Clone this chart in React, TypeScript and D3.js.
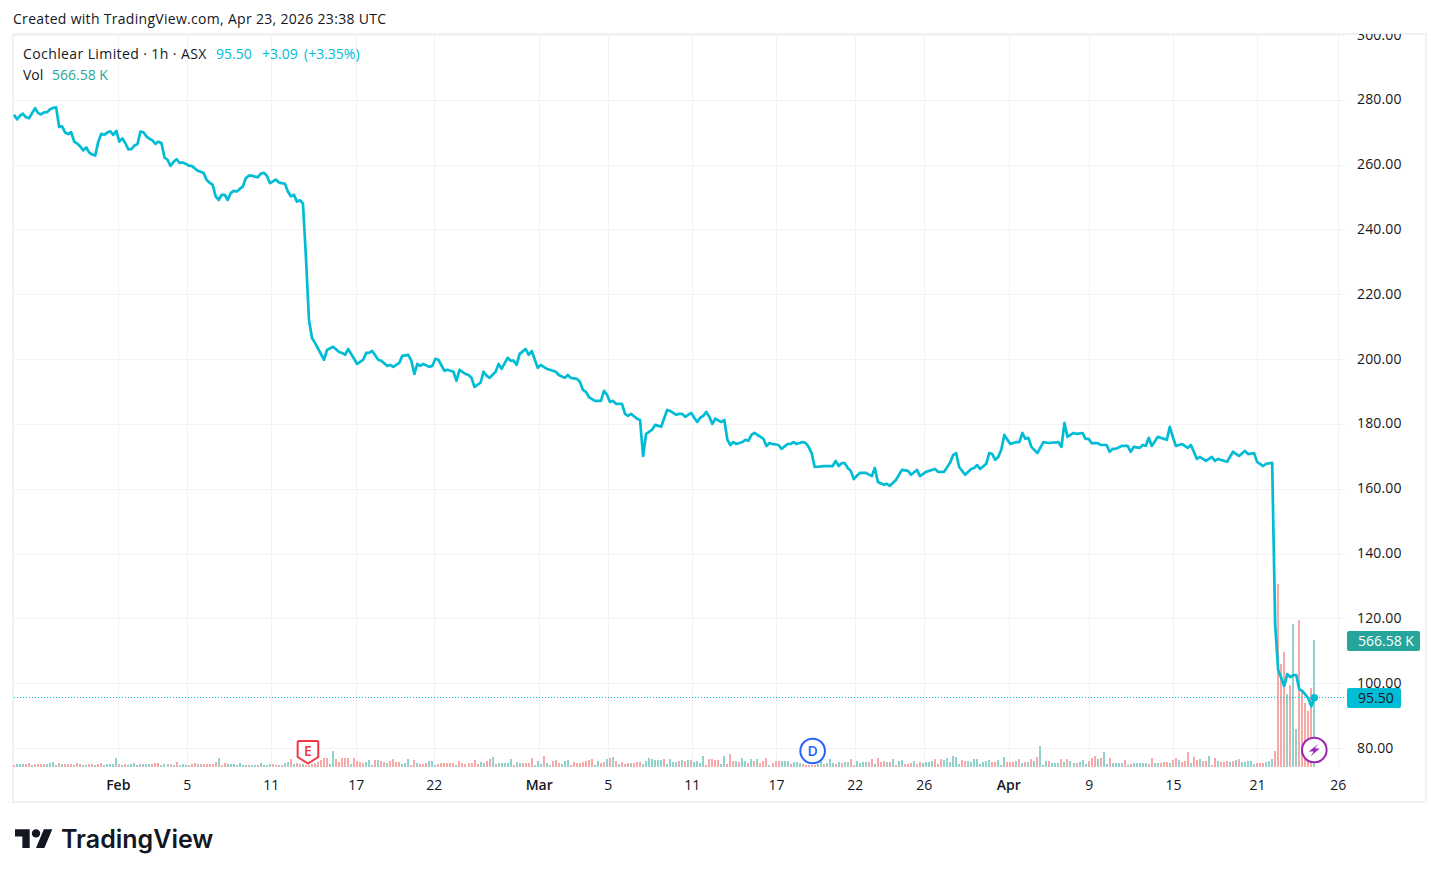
import { useEffect, useRef } from 'react';
import * as d3 from 'd3';

// hourly closes, [bar number, price]
const closeRows: [number, number][] = [
  [0, 275.4], [1, 274.0], [2, 275.1], [3, 275.7], [4, 274.6], [5, 274.3], [6, 275.9], [7, 277.4], [8, 275.9], [9, 275.5],
  [10, 276.1], [11, 276.2], [12, 277.1], [13, 277.5], [14, 277.7], [15, 271.6], [16, 271.8], [17, 269.9], [18, 269.4], [19, 270.0],
  [20, 267.1], [21, 266.5], [22, 265.6], [23, 264.4], [24, 265.3], [25, 263.7], [26, 263.1], [27, 262.8], [28, 267.1], [29, 269.5],
  [30, 269.2], [31, 269.9], [32, 270.3], [33, 269.2], [34, 270.4], [35, 267.1], [36, 268.1], [37, 266.6], [38, 264.7], [39, 264.8],
  [40, 265.9], [41, 266.3], [42, 270.2], [43, 270.0], [44, 268.7], [45, 268.0], [46, 267.5], [47, 266.4], [48, 267.1], [49, 266.6],
  [50, 262.2], [51, 261.5], [52, 259.6], [53, 260.8], [54, 261.7], [55, 260.5], [56, 260.7], [57, 260.3], [58, 259.7], [59, 259.6],
  [60, 258.9], [61, 258.1], [62, 257.8], [63, 257.4], [64, 255.3], [65, 254.4], [66, 253.8], [67, 250.2], [68, 249.1], [69, 250.7],
  [70, 250.7], [71, 249.1], [72, 251.2], [73, 251.9], [74, 251.7], [75, 252.5], [76, 253.2], [77, 255.8], [78, 256.6], [79, 256.6],
  [80, 256.3], [81, 256.1], [82, 257.2], [83, 257.5], [84, 256.6], [85, 254.3], [86, 254.8], [87, 255.4], [88, 254.5], [89, 254.3],
  [90, 254.1], [91, 251.7], [92, 250.2], [93, 250.7], [94, 248.6], [95, 249.0], [96, 248.0], [97, 231.3], [98, 212.1], [99, 206.5],
  [100, 205.0], [103, 199.8], [104, 202.8], [106, 203.8], [108, 202.2], [109, 201.9], [110, 201.3], [111, 203.1], [113, 200.1], [114, 198.5],
  [116, 199.8], [117, 201.9], [118, 201.9], [119, 202.5], [121, 199.8], [122, 199.5], [124, 197.9], [125, 198.2], [126, 197.6], [128, 198.8],
  [129, 201.0], [131, 201.3], [132, 199.5], [133, 195.4], [134, 198.5], [135, 197.9], [136, 198.5], [138, 197.6], [139, 197.9], [140, 200.1],
  [141, 199.8], [143, 196.4], [144, 196.7], [146, 196.1], [147, 193.3], [148, 196.7], [150, 195.4], [151, 195.1], [152, 194.2], [153, 191.4],
  [155, 192.7], [156, 196.1], [157, 194.9], [158, 194.2], [160, 196.1], [161, 198.5], [162, 197.0], [164, 200.4], [165, 199.5], [166, 199.5],
  [167, 198.2], [168, 201.6], [170, 203.1], [171, 201.3], [172, 202.5], [174, 197.3], [175, 198.2], [177, 197.0], [178, 196.7], [180, 196.1],
  [181, 195.1], [183, 194.2], [184, 195.1], [185, 194.2], [187, 193.9], [188, 193.0], [189, 190.5], [190, 189.9], [191, 188.3], [193, 187.1],
  [195, 187.1], [196, 190.2], [197, 189.0], [198, 186.8], [199, 187.1], [200, 186.2], [202, 186.2], [203, 183.1], [204, 182.5], [205, 183.1],
  [207, 181.6], [208, 181.2], [209, 170.1], [210, 176.9], [212, 178.2], [213, 179.7], [215, 179.1], [217, 184.3], [218, 184.0], [220, 182.8],
  [221, 183.1], [222, 183.1], [223, 182.2], [225, 183.4], [226, 181.9], [227, 180.6], [228, 181.9], [229, 182.5], [230, 183.7], [231, 182.2],
  [232, 180.0], [233, 181.6], [235, 180.6], [236, 181.2], [237, 175.1], [238, 173.5], [239, 174.4], [240, 173.8], [242, 174.4], [243, 175.1],
  [244, 174.8], [245, 176.6], [246, 177.2], [249, 175.4], [250, 173.2], [251, 174.1], [252, 173.8], [254, 173.5], [255, 172.3], [257, 173.8],
  [258, 173.8], [259, 174.4], [260, 173.8], [262, 174.4], [263, 174.1], [264, 172.9], [265, 171.0], [266, 166.7], [269, 167.0], [272, 167.0],
  [273, 168.6], [274, 167.0], [275, 167.9], [276, 167.9], [277, 166.4], [278, 165.5], [279, 163.0], [281, 164.9], [283, 164.9], [285, 163.9],
  [286, 166.4], [287, 162.1], [289, 161.2], [290, 161.5], [291, 160.9], [293, 162.7], [295, 165.8], [297, 165.5], [298, 164.3], [300, 165.8],
  [301, 163.9], [303, 165.2], [306, 166.1], [307, 165.2], [309, 165.2], [311, 168.0], [312, 170.4], [313, 171.0], [314, 166.7], [316, 164.3],
  [318, 166.1], [319, 166.4], [320, 167.3], [321, 166.1], [323, 167.7], [324, 171.0], [325, 170.7], [326, 168.9], [327, 169.8], [328, 172.0],
  [329, 176.6], [331, 173.8], [333, 174.4], [334, 174.4], [335, 177.2], [336, 175.4], [337, 175.7], [338, 172.9], [340, 171.0], [342, 174.4],
  [344, 174.1], [347, 174.4], [348, 172.9], [349, 180.3], [350, 176.0], [352, 177.2], [353, 176.9], [355, 177.2], [356, 175.4], [357, 175.4],
  [358, 174.1], [360, 174.1], [361, 173.5], [363, 173.5], [364, 171.4], [365, 172.3], [366, 172.3], [368, 173.2], [370, 173.2], [371, 171.4],
  [372, 172.9], [374, 172.6], [375, 173.5], [376, 173.2], [377, 175.7], [378, 173.2], [380, 176.0], [383, 175.1], [384, 179.1], [385, 176.0],
  [386, 173.2], [388, 173.8], [390, 172.6], [391, 173.5], [393, 169.2], [394, 169.8], [396, 168.6], [398, 169.8], [399, 168.6], [400, 169.2],
  [403, 168.3], [405, 171.4], [407, 170.1], [409, 171.7], [410, 170.7], [412, 171.0], [413, 168.3], [415, 167.0], [416, 167.7], [418, 168.0],
  [419, 118.0], [420, 104.1], [421, 101.6], [422, 99.1], [423, 102.8], [424, 101.9], [425, 102.5], [426, 102.5], [427, 98.2], [428, 97.6],
  [430, 95.4], [431, 92.9], [432, 95.5],
];

// volume per bar in thousands, negative = down bar
const volumes: number[] = [
  -9, 13, 13, 13, -13, -18, 9, -13, -13, -13, -13, 13, 18, 22, 9, -18, 13, -13, -13, -13,
  9, -18, -13, 9, 9, -13, -13, 9, -13, -18, 9, 13, 13, 13, 40, -13, 9, -13, 9, 13,
  18, 9, -13, 13, 13, 13, -13, -18, -18, 9, 13, 13, -13, 9, -22, 9, 13, 9, -9, -13,
  -18, 13, -13, -13, -13, -13, -13, -22, 40, -9, -18, 13, 13, 13, 9, 18, 9, 9, -9, 9,
  9, -9, 18, 9, 9, 13, -13, -9, 9, -9, 18, 22, -36, 13, -18, -13, 13, -9, -9, -13,
  -18, -22, -31, -40, -40, 13, 71, -36, -22, -40, -40, -40, 13, -40, -27, -22, -18, 22, 31, 9,
  -31, 31, -27, -22, 18, -27, -36, -22, -22, 13, 18, 36, -9, -31, 18, -13, -13, -18, 27, 27,
  9, -13, -18, -18, -18, -18, -18, 9, -27, -18, -13, -18, -18, -31, -13, 22, 18, -27, -36, 45,
  -13, 18, 18, 18, 18, 36, -9, 22, 18, -18, -18, -18, -40, 9, 27, 13, -49, 18, 9, -27,
  -31, -18, 13, 27, 31, -9, -22, -18, -18, -22, -27, -31, -36, 9, 27, -18, -22, 36, -40, 45,
  -27, 13, -22, -13, -18, 18, -18, -22, -22, 13, 27, 40, 36, 31, 31, 31, -36, 13, 36, 22,
  22, -27, 31, -27, 31, -31, 22, 27, 18, 49, -9, -36, -36, -31, -31, 13, 49, -13, -58, -27,
  27, -22, 40, 27, -18, 36, -27, 36, -18, -27, -40, 9, -18, -27, -27, 27, 27, 27, -13, 22,
  22, 18, -13, -9, -9, -9, -9, 13, 27, -13, 18, 36, 18, -13, 22, -18, 22, 22, -36, -9,
  27, 18, 22, 22, -22, -36, 13, -40, -22, -27, 22, -22, 36, -9, 27, 31, -13, -13, -18, 27,
  -13, -22, 18, 22, 22, 27, -36, -13, -36, 31, 40, 22, 49, 45, 13, -31, -27, 27, 22, 36,
  36, 13, 22, 27, 31, -22, -22, 31, 9, 45, -22, -22, -22, 27, -36, 18, -22, 22, -36, 27,
  -45, 94, 9, 27, -27, 18, 18, 18, -36, 22, -36, 27, 18, -18, 22, 31, 13, -27, -40, -49,
  36, -40, 67, 13, -40, 18, 18, 18, 18, -31, 9, -13, 18, 18, 18, 18, 18, -13, -40, 18,
  18, -18, -22, -22, 18, -31, -40, 31, -22, -27, -67, 18, -45, -31, 36, -27, -27, 49, -9, -40,
  27, -22, -22, -27, 22, -25, 30, -34, 22, 22, 25, 25, 15, -19, -18, -19, 22, 27, 34, -70,
  -815, -460, -513, 327, -364, 636, 171, -654, -334, -287, -252, -352, 566.58,
];

const priceTicks = [80, 100, 120, 140, 160, 180, 200, 220, 240, 260, 280, 300];

// time axis labels and where they sit, in bars (they land between bars at this zoom)
const timeLabels = ['Feb', '5', '11', '17', '22', 'Mar', '5', '11', '17', '22', '26', 'Apr', '9', '15', '21', '26'];
const timeBars = [34.65, 57.57, 85.5, 113.7, 139.6, 174.5, 197.4, 225.3, 253.3, 279.5, 302.4, 330.5, 357.2, 385.2, 413.1, 440];
const monthLabels = ['Feb', 'Mar', 'Apr'];

const lastPrice = 95.5;
const lastVolume = 566.58;
const earningsBar = 98;
const dividendBar = 266;

const FONT = '"Open Sans", sans-serif';
const CYAN = '#00bcd4';
const TEAL = '#26a69a';
const GRID = '#f2f3f5';
const INK = '#131722';

export default function App() {
  const ref = useRef<SVGSVGElement | null>(null);

  useEffect(() => {
    if (!ref.current) return;
    const svg = d3.select(ref.current);
    svg.selectAll('*').remove();

    const paneLeft = 14;
    const paneRight = 1346;
    const paneTop = 35;
    const paneBottom = 767;

    const x = d3.scaleLinear().domain([0, 432]).range([14, 1314.3]);
    const y = d3.scaleLinear().domain([80, 300]).range([748, 35]);
    const yVol = d3.scaleLinear().domain([0, lastVolume]).range([paneBottom, 640]);

    svg.append('rect').attr('width', 1439).attr('height', 877).attr('fill', '#fff');

    const defs = svg.append('defs');
    defs.append('clipPath').attr('id', 'pane')
      .append('rect').attr('x', 13).attr('y', 34).attr('width', 1413).attr('height', 768);

    svg.append('text')
      .attr('x', 13).attr('y', 24)
      .attr('font-size', 14).attr('fill', INK)
      .attr('letter-spacing', 0.3)
      .text('Created with TradingView.com, Apr 23, 2026 23:38 UTC');

    // frame
    svg.append('rect')
      .attr('x', 13).attr('y', 34).attr('width', 1413).attr('height', 768)
      .attr('fill', 'none').attr('stroke', '#f0f1f3').attr('stroke-width', 2);

    // grid
    svg.append('g').selectAll('line').data(priceTicks).join('line')
      .attr('x1', paneLeft).attr('x2', paneRight)
      .attr('y1', (d) => Math.round(y(d)) + 0.5).attr('y2', (d) => Math.round(y(d)) + 0.5)
      .attr('stroke', GRID);
    svg.append('g').selectAll('line').data(timeBars).join('line')
      .attr('x1', (d) => Math.round(x(d)) + 0.5).attr('x2', (d) => Math.round(x(d)) + 0.5)
      .attr('y1', paneTop).attr('y2', paneBottom)
      .attr('stroke', GRID);

    // volume
    svg.append('g').attr('shape-rendering', 'crispEdges')
      .selectAll('rect').data(volumes).join('rect')
      .attr('x', (_, i) => Math.round(x(i)) - 1)
      .attr('width', 2)
      .attr('y', (d) => yVol(Math.abs(d)))
      .attr('height', (d) => paneBottom - yVol(Math.abs(d)))
      .attr('fill', (d) => (d >= 0 ? '#92d2cc' : '#f7a9a7'));

    // last price dotted line
    svg.append('line')
      .attr('x1', paneLeft).attr('x2', paneRight)
      .attr('y1', 697.5).attr('y2', 697.5)
      .attr('stroke', CYAN).attr('stroke-dasharray', '1 2');

    const line = d3.line<[number, number]>()
      .x((d) => x(d[0]))
      .y((d) => y(d[1]));

    svg.append('path')
      .attr('d', line(closeRows) as string)
      .attr('fill', 'none')
      .attr('stroke', CYAN)
      .attr('stroke-width', 2.7)
      .attr('stroke-linejoin', 'round');

    svg.append('circle')
      .attr('cx', x(432)).attr('cy', y(lastPrice)).attr('r', 3.7)
      .attr('fill', CYAN);

    // event markers
    const ex = x(earningsBar) - 1;
    svg.append('path')
      .attr('d', `M${ex - 9.3},741 h18.6 a1,1 0 0 1 1,1 v15 l-10.3,6.5 l-10.3,-6.5 v-15 a1,1 0 0 1 1,-1 Z`)
      .attr('fill', '#fff').attr('stroke', '#f23645').attr('stroke-width', 2);
    svg.append('text')
      .attr('x', ex).attr('y', 756).attr('text-anchor', 'middle')
      .attr('font-size', 14).attr('font-weight', 600).attr('fill', '#f23645')
      .text('E');

    const dx = x(dividendBar) - 2;
    svg.append('circle')
      .attr('cx', dx).attr('cy', 751).attr('r', 12.3)
      .attr('fill', '#fff').attr('stroke', '#2962ff').attr('stroke-width', 2);
    svg.append('text')
      .attr('x', dx).attr('y', 756).attr('text-anchor', 'middle')
      .attr('font-size', 14).attr('font-weight', 600).attr('fill', '#2962ff')
      .text('D');

    const bx = x(432);
    svg.append('circle')
      .attr('cx', bx).attr('cy', 750).attr('r', 12.3)
      .attr('fill', '#fff').attr('stroke', '#9c27b0').attr('stroke-width', 2);
    svg.append('path')
      .attr('d', `M${bx + 4},744 L${bx - 5.5},751.5 H${bx - 0.5} L${bx - 4},756.5 L${bx + 5.5},748.5 H${bx + 0.5} Z`)
      .attr('fill', '#9c27b0');

    // price axis
    svg.append('g').attr('clip-path', 'url(#pane)')
      .selectAll('text').data(priceTicks).join('text')
      .attr('x', 1357)
      .attr('y', (d) => y(d) + 4.5)
      .attr('font-size', 14).attr('fill', INK)
      .attr('letter-spacing', 0.15)
      .text((d) => d.toFixed(2));

    // time axis
    svg.append('g').selectAll('text').data(timeLabels).join('text')
      .attr('x', (_, i) => x(timeBars[i]))
      .attr('y', 790)
      .attr('text-anchor', 'middle')
      .attr('font-size', 14).attr('fill', INK)
      .attr('font-weight', (d) => (monthLabels.includes(d) ? 600 : 400))
      .text((d) => d);

    // last value tags
    svg.append('rect').attr('x', 1347).attr('y', 631).attr('width', 73).attr('height', 20).attr('rx', 2).attr('fill', TEAL);
    svg.append('text').attr('x', 1358).attr('y', 646).attr('font-size', 14).attr('fill', '#fff').text('566.58 K');
    svg.append('rect').attr('x', 1347).attr('y', 688).attr('width', 54).attr('height', 20).attr('rx', 2).attr('fill', CYAN);
    svg.append('text').attr('x', 1358).attr('y', 703).attr('font-size', 14).attr('fill', INK).text('95.50');

    // legend
    const legend = svg.append('g').attr('font-size', 14);
    legend.append('text').attr('x', 23).attr('y', 59).attr('fill', INK).attr('letter-spacing', 0.4).text('Cochlear Limited · 1h · ASX');
    legend.append('text').attr('x', 216).attr('y', 59).attr('fill', CYAN).text('95.50');
    legend.append('text').attr('x', 262).attr('y', 59).attr('fill', CYAN).text('+3.09');
    legend.append('text').attr('x', 304).attr('y', 59).attr('fill', CYAN).text('(+3.35%)');
    legend.append('text').attr('x', 23).attr('y', 80).attr('fill', INK).text('Vol');
    legend.append('text').attr('x', 52).attr('y', 80).attr('fill', TEAL).text('566.58 K');

    // logo
    const logo = svg.append('g').attr('transform', 'translate(15,825) scale(1.05)').attr('fill', INK);
    logo.append('path').attr('d', 'M14 22H7V11H0V4h14v18zM28 22h-8l7.5-18h8L28 22z');
    logo.append('circle').attr('cx', 20).attr('cy', 8).attr('r', 4);
    svg.append('text')
      .attr('x', 61).attr('y', 848)
      .attr('font-family', 'Inter, sans-serif')
      .attr('font-size', 25).attr('font-weight', 600).attr('fill', INK)
      .text('TradingView');
  }, []);

  return (
    <svg
      ref={ref}
      width={1439}
      height={877}
      viewBox="0 0 1439 877"
      style={{ position: 'absolute', left: 0, top: 0, fontFamily: FONT }}
    />
  );
}
